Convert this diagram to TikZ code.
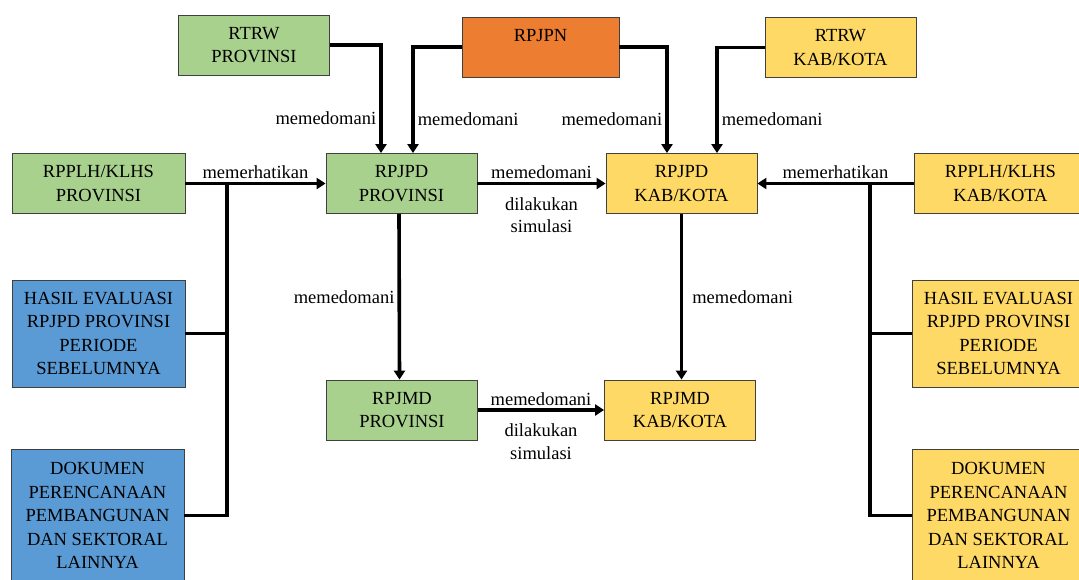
\documentclass[tikz,border=0pt]{standalone}
\usepackage{fontspec}
\setmainfont{Liberation Serif}
\usetikzlibrary{arrows.meta}
\definecolor{provgreen}{HTML}{A9D18E}
\definecolor{natorange}{HTML}{ED7D31}
\definecolor{kabyellow}{HTML}{FFD966}
\definecolor{evalblue}{HTML}{5B9BD5}
\begin{document}
\begin{tikzpicture}
  [x=1pt,y=-1pt,font=\fontsize{18.5}{23.5}\selectfont,
   box/.style={draw=black!75,line width=.8pt,align=center,inner sep=0pt,minimum height=60pt},
   side/.style={box,minimum width=173pt},
   mid/.style={box,minimum width=151pt},
   link/.style={line width=3.6pt},
   arr/.style={link,-{Triangle[length=9pt,width=11pt]}},
   lbl/.style={inner sep=3pt}]

  \clip (0,0) rectangle (1079,579);

  \node[mid,fill=provgreen] (rtrwprov) at (254,45) {RTRW\\PROVINSI};
  \node[mid,fill=natorange,minimum width=157pt] (rpjpn) at (540.5,47) {RPJPN\\[-8pt]\strut};
  \node[mid,fill=kabyellow] (rtrwkab) at (840.5,47.5) {RTRW\\KAB/KOTA};

  \node[side,fill=provgreen] (rpplhprov) at (98.5,183.5) {RPPLH/KLHS\\PROVINSI};
  \node[mid,fill=provgreen] (rpjpdprov) at (401.5,183.5) {RPJPD\\PROVINSI};
  \node[mid,fill=kabyellow] (rpjpdkab) at (681.5,183.5) {RPJPD\\KAB/KOTA};
  \node[side,fill=kabyellow] (rpplhkab) at (1000.5,183.5) {RPPLH/KLHS\\KAB/KOTA};

  \node[side,fill=evalblue,minimum height=107pt] (hasilprov) at (98.5,333.5)
    {HASIL EVALUASI\\RPJPD PROVINSI\\PERIODE\\SEBELUMNYA};
  \node[side,fill=kabyellow,minimum height=107pt] (hasilkab) at (998.5,333.5)
    {HASIL EVALUASI\\RPJPD PROVINSI\\PERIODE\\SEBELUMNYA};
  \node[side,fill=evalblue,minimum height=133pt] (dokprov) at (97.5,515.5)
    {DOKUMEN\\PERENCANAAN\\PEMBANGUNAN\\DAN SEKTORAL\\LAINNYA};
  \node[side,fill=kabyellow,minimum height=133pt] (dokkab) at (998.5,515.5)
    {DOKUMEN\\PERENCANAAN\\PEMBANGUNAN\\DAN SEKTORAL\\LAINNYA};

  \node[mid,fill=provgreen] (rpjmdprov) at (402,410) {RPJMD\\PROVINSI};
  \node[mid,fill=kabyellow] (rpjmdkab) at (680,410) {RPJMD\\KAB/KOTA};

  \coordinate (jl) at (227,183.5);
  \coordinate (jr) at (870,183.5);

  \draw[arr] (rtrwprov.east) -| ([xshift=-20.5pt]rpjpdprov.north)
    node[lbl,pos=.84,left] {memedomani};
  \draw[arr] (rpjpn.west) -| ([xshift=11.5pt]rpjpdprov.north)
    node[lbl,pos=.84,right] {memedomani};
  \draw[arr] (rpjpn.east) -| ([xshift=-14.5pt]rpjpdkab.north)
    node[lbl,pos=.84,left] {memedomani};
  \draw[arr] (rtrwkab.west) -| ([xshift=35.5pt]rpjpdkab.north)
    node[lbl,pos=.84,right] {memedomani};

  \draw[arr] (rpplhprov.east) -- (rpjpdprov.west)
    node[lbl,midway,above] {memerhatikan};
  \draw[arr] (rpplhkab.west) -- (rpjpdkab.east)
    node[lbl,midway,above] {memerhatikan};

  \draw[link] (jl) |- (dokprov.east);
  \draw[link] (hasilprov.east) -- (hasilprov.east -| jl);
  \draw[link] (jr) |- (dokkab.west);
  \draw[link] (hasilkab.west) -- (hasilkab.west -| jr);

  \foreach \from/\to in {rpjpdprov/rpjpdkab,rpjmdprov/rpjmdkab}
    \draw[arr] (\from.east) -- (\to.west)
      node[lbl,midway,above] {memedomani}
      node[lbl,midway,below,yshift=-9pt,align=center,font=\fontsize{18.5}{22.5}\selectfont] {dilakukan\\simulasi};

  \draw[arr] ([xshift=-2.5pt]rpjpdprov.south) -- ([xshift=-2.5pt]rpjmdprov.north)
    node[lbl,midway,left] {memedomani};
  \draw[arr] (rpjpdkab.south) -- (rpjpdkab.south |- rpjmdkab.north)
    node[lbl,midway,right,xshift=6pt] {memedomani};
\end{tikzpicture}
\end{document}
